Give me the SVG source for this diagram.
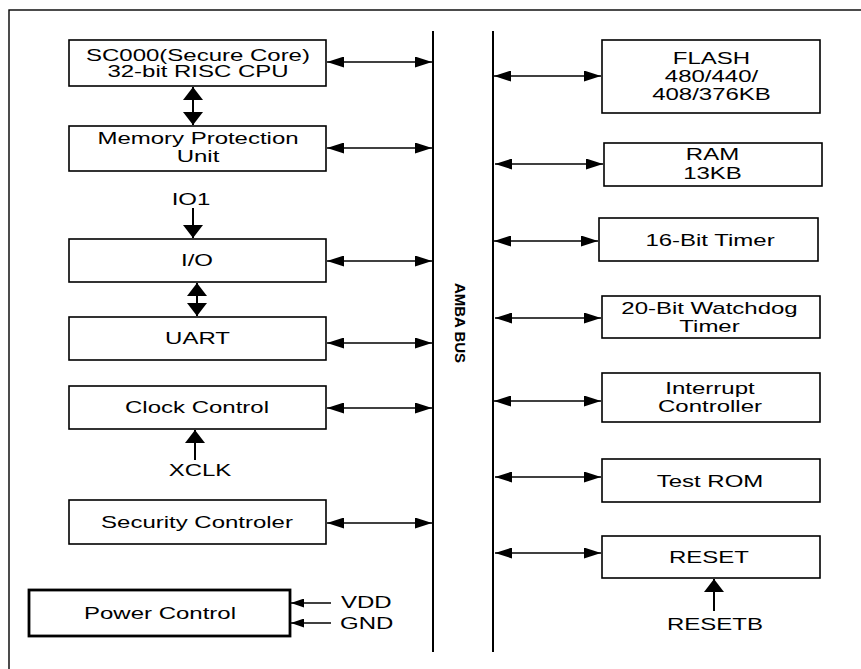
<svg xmlns="http://www.w3.org/2000/svg" width="861" height="669" viewBox="0 0 861 669">
  <style>
    .box { fill: #fff; stroke: #000; stroke-width: 1.6; }
    .boxb { fill: #fff; stroke: #000; stroke-width: 2.8; }
    .bus { stroke: #000; stroke-width: 2; fill: none; }
    .ln { stroke: #000; stroke-width: 1.4; fill: none; }
    .lnv { stroke: #000; stroke-width: 2; fill: none; }
    .h2 { marker-start: url(#ah); marker-end: url(#ah); }
    .v2 { marker-start: url(#av); marker-end: url(#av); }
    .v1 { marker-end: url(#av); }
    .s1 { marker-end: url(#as); }
    text { font-family: "Liberation Sans", Arial, sans-serif; font-size: 16px; fill: #000; text-anchor: middle; }
    .l { text-anchor: start; }
    .bus-label { font-weight: bold; font-size: 15px; }
  </style>
  <defs>
    <marker id="ah" markerUnits="userSpaceOnUse" markerWidth="17" markerHeight="11" refX="17" refY="5.5" orient="auto-start-reverse">
      <path d="M0,0 L17,5.5 L0,11 z" fill="#000"/>
    </marker>
    <marker id="av" markerUnits="userSpaceOnUse" markerWidth="13" markerHeight="20" refX="13" refY="10" orient="auto-start-reverse">
      <path d="M0,0 L13,10 L0,20 z" fill="#000"/>
    </marker>
    <marker id="as" markerUnits="userSpaceOnUse" markerWidth="13" markerHeight="9" refX="13" refY="4.5" orient="auto">
      <path d="M0,0 L13,4.5 L0,9 z" fill="#000"/>
    </marker>
  </defs>

  <rect width="861" height="669" fill="#fff"/>
  <!-- outer frame (right and bottom sides fall outside the canvas) -->
  <rect x="9" y="10" width="870" height="680" fill="none" stroke="#000" stroke-width="1.4"/>

  <!-- AMBA bus -->
  <g id="amba-bus">
    <line class="bus" x1="433" y1="31" x2="433" y2="652"/>
    <line class="bus" x1="493" y1="31" x2="493" y2="652"/>
    <text class="bus-label" transform="translate(455,323) rotate(90)" textLength="80" lengthAdjust="spacingAndGlyphs">AMBA BUS</text>
  </g>

  <!-- connectors -->
  <g id="connectors">
    <line class="ln h2" x1="327" y1="62" x2="432" y2="62"/>
    <line class="ln h2" x1="327" y1="148" x2="432" y2="148"/>
    <line class="ln h2" x1="327" y1="261" x2="432" y2="261"/>
    <line class="ln h2" x1="327" y1="343" x2="432" y2="343"/>
    <line class="ln h2" x1="327" y1="408" x2="432" y2="408"/>
    <line class="ln h2" x1="327" y1="523" x2="432" y2="523"/>

    <line class="ln h2" x1="494" y1="76" x2="601" y2="76"/>
    <line class="ln h2" x1="495" y1="164" x2="603" y2="164"/>
    <line class="ln h2" x1="494" y1="241" x2="598" y2="241"/>
    <line class="ln h2" x1="495" y1="318" x2="601" y2="318"/>
    <line class="ln h2" x1="494" y1="401" x2="601" y2="401"/>
    <line class="ln h2" x1="495" y1="477" x2="601" y2="477"/>
    <line class="ln h2" x1="495" y1="553" x2="601" y2="553"/>

    <line class="lnv v2" x1="193" y1="87" x2="193" y2="125"/>
    <line class="lnv v2" x1="197" y1="283" x2="197" y2="316"/>
    <line class="lnv v1" x1="193" y1="208" x2="193" y2="238"/>
    <line class="lnv v1" x1="195" y1="460" x2="195" y2="430"/>
    <line class="lnv v1" x1="714" y1="611" x2="714" y2="579"/>

    <line class="ln s1" x1="331" y1="603" x2="291" y2="603"/>
    <line class="ln s1" x1="331" y1="623" x2="291" y2="623"/>
  </g>

  <!-- left column -->
  <g id="cpu">
    <rect class="box" x="69" y="40" width="257" height="46"/>
    <text transform="translate(198,61) scale(1.5,1)">SC000(Secure Core)</text>
    <text transform="translate(198,77) scale(1.5,1)">32-bit RISC CPU</text>
  </g>
  <g id="mpu">
    <rect class="box" x="69" y="126" width="257" height="45"/>
    <text transform="translate(198,143.5) scale(1.5,1)">Memory Protection</text>
    <text transform="translate(198,161.5) scale(1.5,1)">Unit</text>
  </g>
  <g id="io1-label">
    <text transform="translate(191,205) scale(1.5,1)">IO1</text>
  </g>
  <g id="io">
    <rect class="box" x="69" y="239" width="257" height="43"/>
    <text transform="translate(197,266) scale(1.5,1)">I/O</text>
  </g>
  <g id="uart">
    <rect class="box" x="69" y="317" width="257" height="43"/>
    <text transform="translate(197.5,344) scale(1.5,1)">UART</text>
  </g>
  <g id="clock">
    <rect class="box" x="69" y="386" width="257" height="43"/>
    <text transform="translate(197,413) scale(1.5,1)">Clock Control</text>
  </g>
  <g id="xclk-label">
    <text transform="translate(200,476) scale(1.5,1)">XCLK</text>
  </g>
  <g id="security">
    <rect class="box" x="69" y="500" width="257" height="44"/>
    <text transform="translate(197,527.5) scale(1.5,1)">Security Controler</text>
  </g>
  <g id="power">
    <rect class="boxb" x="29" y="590" width="261" height="46"/>
    <text transform="translate(160,618.5) scale(1.5,1)">Power Control</text>
  </g>
  <g id="vdd-gnd-labels">
    <text class="l" transform="translate(341,608) scale(1.5,1)">VDD</text>
    <text class="l" transform="translate(340,629) scale(1.5,1)">GND</text>
  </g>

  <!-- right column -->
  <g id="flash">
    <rect class="box" x="602" y="40" width="218" height="73"/>
    <text transform="translate(711.5,63.5) scale(1.5,1)">FLASH</text>
    <text transform="translate(711.5,82) scale(1.5,1)">480/440/</text>
    <text transform="translate(711.5,100) scale(1.5,1)">408/376KB</text>
  </g>
  <g id="ram">
    <rect class="box" x="604" y="143" width="218" height="43"/>
    <text transform="translate(712.5,160) scale(1.5,1)">RAM</text>
    <text transform="translate(712.5,179) scale(1.5,1)">13KB</text>
  </g>
  <g id="timer16">
    <rect class="box" x="599" y="218" width="219" height="43"/>
    <text transform="translate(710,246) scale(1.5,1)">16-Bit Timer</text>
  </g>
  <g id="watchdog">
    <rect class="box" x="602" y="296" width="218" height="42"/>
    <text transform="translate(709.5,313.5) scale(1.5,1)">20-Bit Watchdog</text>
    <text transform="translate(709.5,331.5) scale(1.5,1)">Timer</text>
  </g>
  <g id="interrupt">
    <rect class="box" x="602" y="373" width="218" height="49"/>
    <text transform="translate(710,393.5) scale(1.5,1)">Interrupt</text>
    <text transform="translate(710,411.5) scale(1.5,1)">Controller</text>
  </g>
  <g id="test-rom">
    <rect class="box" x="602" y="459" width="218" height="43"/>
    <text transform="translate(710,487) scale(1.5,1)">Test ROM</text>
  </g>
  <g id="reset">
    <rect class="box" x="602" y="536" width="218" height="42"/>
    <text transform="translate(709,563) scale(1.5,1)">RESET</text>
  </g>
  <g id="resetb-label">
    <text transform="translate(715,629.5) scale(1.5,1)">RESETB</text>
  </g>
</svg>
